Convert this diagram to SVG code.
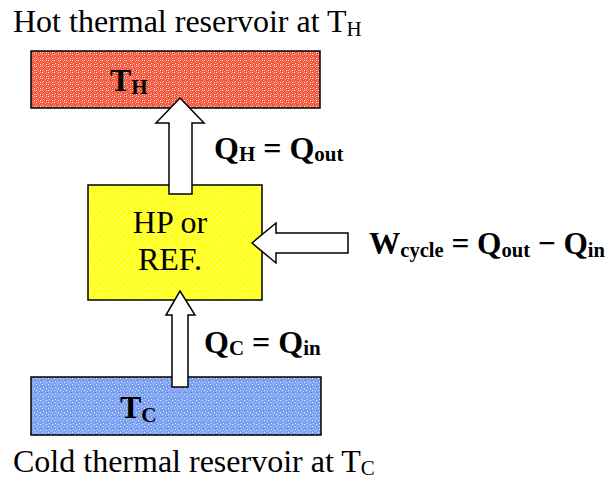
<svg xmlns="http://www.w3.org/2000/svg" width="608" height="479" viewBox="0 0 608 479">
<style>
text{font-family:"Liberation Serif","Times New Roman",serif;fill:#000}
.n{font-size:32px}
.b{font-size:32px;font-weight:bold}
.s{font-size:21px}
.box{stroke:#000;stroke-width:1.5}
.arrow{fill:#fff;stroke:#000;stroke-width:1.5;stroke-linejoin:miter}
</style>
<defs>
<pattern id="pr" width="6" height="6" patternUnits="userSpaceOnUse">
<rect width="6" height="6" fill="#f25a40"/>
<rect x="0" y="0" width="1" height="1" fill="#fff"/><rect x="3" y="1" width="1" height="1" fill="#ffa090"/>
<rect x="1" y="3" width="1" height="1" fill="#ffc0b0"/><rect x="4" y="4" width="1" height="1" fill="#fff"/>
<rect x="5" y="2" width="1" height="1" fill="#ff8870"/><rect x="2" y="5" width="1" height="1" fill="#ff9480"/>
<rect x="4" y="0" width="1" height="1" fill="#ffb0a0"/><rect x="0" y="4" width="1" height="1" fill="#ff9c8c"/>
</pattern>
<pattern id="py" width="6" height="6" patternUnits="userSpaceOnUse">
<rect width="6" height="6" fill="#ffff10"/>
<rect x="0" y="0" width="1" height="1" fill="#fff"/><rect x="3" y="1" width="1" height="1" fill="#ffffa0"/>
<rect x="1" y="3" width="1" height="1" fill="#ffffc8"/><rect x="4" y="4" width="1" height="1" fill="#fff"/>
<rect x="5" y="2" width="1" height="1" fill="#ffff80"/><rect x="2" y="5" width="1" height="1" fill="#ffff90"/>
</pattern>
<pattern id="pb" width="6" height="6" patternUnits="userSpaceOnUse">
<rect width="6" height="6" fill="#7ea2f2"/>
<rect x="0" y="0" width="1" height="1" fill="#e0eaff"/><rect x="3" y="1" width="1" height="1" fill="#b4caff"/>
<rect x="1" y="3" width="1" height="1" fill="#c8d8ff"/><rect x="4" y="4" width="1" height="1" fill="#e8f0ff"/>
<rect x="5" y="2" width="1" height="1" fill="#5c88e8"/><rect x="2" y="5" width="1" height="1" fill="#a0bcf8"/>
</pattern>
</defs>
<rect width="608" height="479" fill="#fff"/>

<text class="n" x="13" y="32">Hot thermal reservoir at T<tspan class="s" dy="4">H</tspan></text>

<g id="hot">
<rect class="box" x="31" y="51" width="289" height="57" fill="url(#pr)"/>
<text class="b" x="110" y="91">T<tspan font-size="21" dy="3">H</tspan></text>
</g>

<g id="engine">
<rect class="box" x="88" y="185" width="174" height="115" fill="url(#py)"/>
<text class="n" x="170" y="233" text-anchor="middle">HP or</text>
<text class="n" x="170" y="270" text-anchor="middle">REF.</text>
</g>

<g id="cold">
<rect class="box" x="31" y="377" width="290" height="58" fill="url(#pb)"/>
<text class="b" x="120" y="418">T<tspan font-size="21" dy="4">C</tspan></text>
</g>

<g id="connectors">
<polygon class="arrow" points="180,98 204,123 192,123 192,194 169,194 169,123 156,123"/>
<polygon class="arrow" points="180,291 195,315 188,315 188,387 172,387 172,315 166,315"/>
<polygon class="arrow" points="252,243 276,223 276,233 348,233 348,253 276,253 276,263"/>
</g>

<g id="labels">
<text class="b" x="214" y="159">Q<tspan font-size="21" dy="2">H</tspan><tspan dy="-2"> = Q</tspan><tspan font-size="21" dy="2">out</tspan></text>
<text class="b" x="369" y="254" textLength="236" lengthAdjust="spacingAndGlyphs">W<tspan font-size="21" dy="3">cycle</tspan><tspan dy="-3"> = Q</tspan><tspan font-size="21" dy="3">out</tspan><tspan dy="-3"> − Q</tspan><tspan font-size="21" dy="3">in</tspan></text>
<text class="b" x="204" y="353">Q<tspan font-size="21" dy="2">C</tspan><tspan dy="-2"> = Q</tspan><tspan font-size="21" dy="2">in</tspan></text>
</g>

<text class="n" x="13" y="472">Cold thermal reservoir at T<tspan class="s" dy="3">C</tspan></text>
</svg>
